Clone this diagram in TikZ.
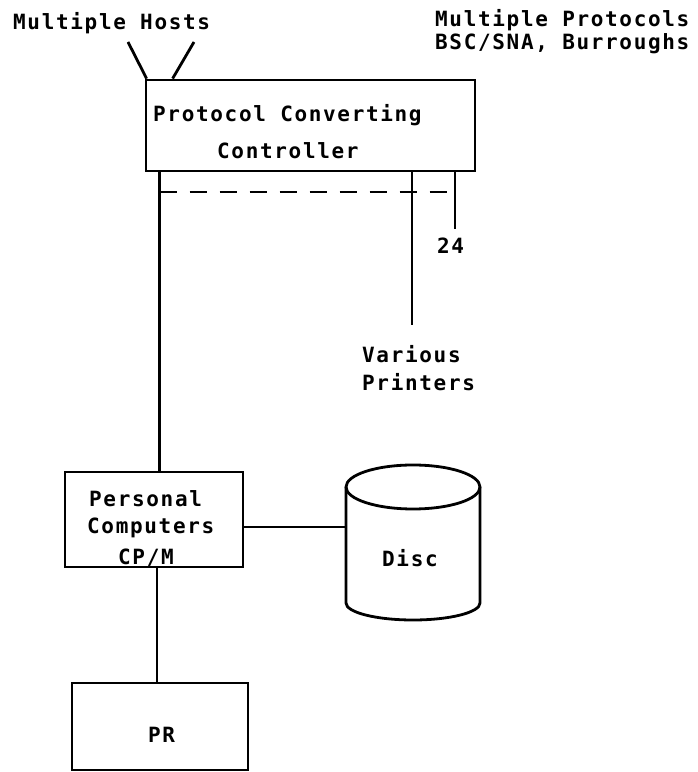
\documentclass[tikz,border=0pt]{standalone}
\usepackage{fontspec}
\newfontfamily\tw[LetterSpace=7.9]{DejaVu Sans Mono}
\begin{document}
\begin{tikzpicture}[x=1pt,y=1pt,
  lbl/.style={font=\tw\bfseries\fontsize{21}{21}\selectfont, inner sep=0pt, anchor=base west},
  boxstyle/.style={draw, line width=2.8pt, inner sep=0pt},
  ln/.style={line width=2.8pt},
  thinln/.style={line width=1.8pt},
  dashln/.style={line width=2.4pt, dash pattern=on 17pt off 13pt}]
\useasboundingbox (0,0) rectangle (698,772);
% boxes
\node[boxstyle, minimum width=329pt, minimum height=91pt] (ctrl) at (310.5,646.5) {};
\node[boxstyle, minimum width=178pt, minimum height=95pt] (pc) at (154,252.5) {};
\node[boxstyle, minimum width=176pt, minimum height=87pt] (pr) at (160,45.5) {};
\node[minimum width=134pt, minimum height=155pt, inner sep=0pt] (disc) at (413,229.5) {};
% disc cylinder
\draw[ln] (346,285) -- (346,169) arc[start angle=180, end angle=360, x radius=67, y radius=17] -- (480,285);
\draw[ln] (413,285) ellipse [x radius=67, y radius=22];
% labels
\node[lbl] (hosts) at (13,742) {Multiple Hosts};
\node[lbl] (prot1) at (435,745) {Multiple Protocols};
\node[lbl] (prot2) at (435,722) {BSC/SNA, Burroughs};
\node[lbl] (t1) at (153,650) {Protocol Converting};
\node[lbl] (t2) at (217,613) {Controller};
\node[lbl] (n24) at (437,518) {24};
\node[lbl] (var) at (362,409) {Various};
\node[lbl] (prn) at (362,381) {Printers};
\node[lbl] (pers) at (89,265) {Personal};
\node[lbl] (comp) at (87,238) {Computers};
\node[lbl] (cpm) at (118,207) {CP/M};
\node[lbl] (disct) at (382,205) {Disc};
\node[lbl] (prt) at (148,30) {PR};
% host lines
\coordinate (h1) at (128,730);
\coordinate (h2) at (194,730);
\draw[ln] (h1) -- ([xshift=2pt]ctrl.north west);
\draw[ln] (h2) -- ([xshift=28pt]ctrl.north west);
% verticals
\coordinate (pend) at (412,447);
\coordinate (c24) at (455,543);
\draw[ln] ([xshift=15pt]ctrl.south west) -- ([xshift=15pt]ctrl.south west |- pc.north);
\draw[ln] (ctrl.south -| pend) -- (pend);
\draw[ln] (ctrl.south -| c24) -- (c24);
\draw[dashln] ([xshift=15pt]ctrl.south west |- 0,580) -- (c24 |- 0,580);
% pc connections
\draw[ln] ([yshift=-7.5pt]pc.east) -- ([yshift=-7.5pt]pc.east -| disc.west);
\draw[thinln] ([xshift=93pt]pc.south west) -- ([xshift=93pt]pc.south west |- pr.north);
\end{tikzpicture}
\end{document}
